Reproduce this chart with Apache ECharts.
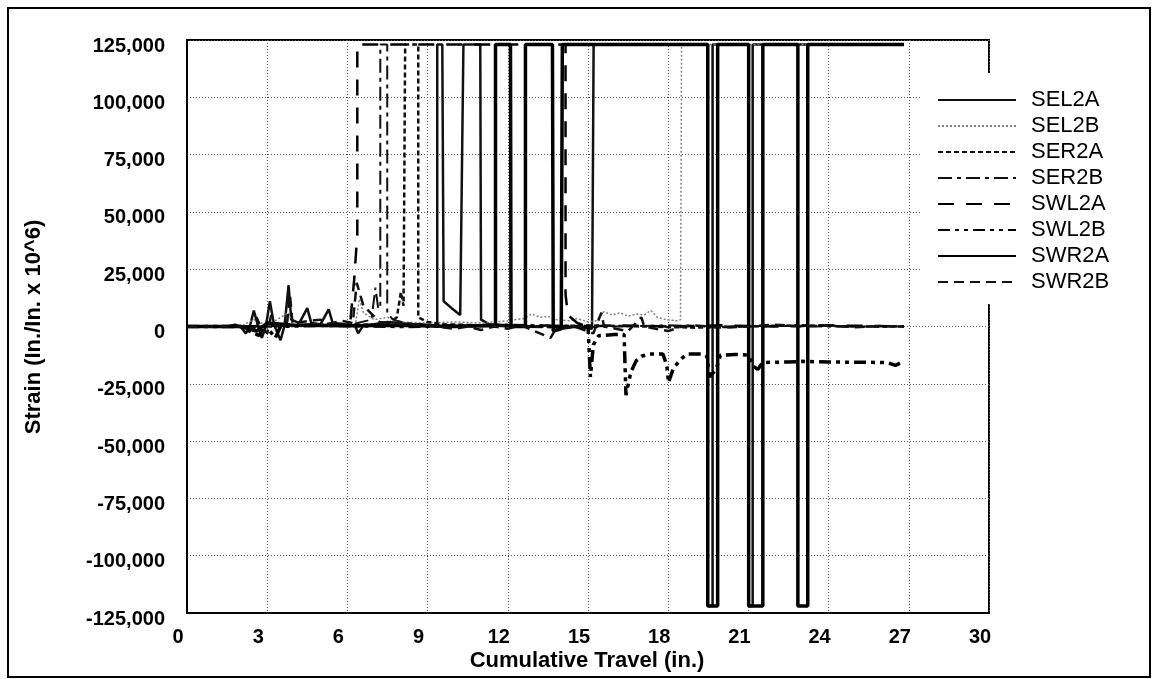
<!DOCTYPE html>
<html>
<head>
<meta charset="utf-8">
<script src="https://cdn.jsdelivr.net/npm/echarts@6/dist/echarts.min.js"></script>
<style>
html,body{margin:0;padding:0;background:#fff;}
#chart{width:1154px;height:679px;}
</style>
</head>
<body>
<div id="chart"></div>
<script>
// ---- data (x = cumulative travel in., y = strain in./in. x 10^6) ----
const seriesNames = ['SEL2A','SEL2B','SER2A','SER2B','SWL2A','SWL2B','SWR2A','SWR2B'];
const xTicks = [0,3,6,9,12,15,18,21,24,27,30];
const yTicks = [-125000,-100000,-75000,-50000,-25000,0,25000,50000,75000,100000,125000];

const SEL2A = [[0,0],[1.5,0],[1.8,800],[2.0,0],[2.2,-3000],[2.35,0],[2.5,7000],[2.65,500],[2.8,-5000],[2.95,0],[3.1,11000],[3.25,1000],[3.5,-6000],[3.65,500],[3.8,18000],[3.9,3000],[4.2,1500],[4.5,8000],[4.65,1500],[5.0,1000],[5.3,7500],[5.45,1500],[6.0,1000],[6.3,0],[6.4,-3000],[6.6,500],[7.0,1000],[7.5,2000],[8.0,1500],[8.5,1000],[9.0,500],[9.36,500],[9.36,123000],[9.55,123000],[9.6,11000],[9.9,8000],[10.22,5000],[10.34,123000],[10.97,123000],[11.0,3000],[11.3,1000],[12,500],[13,0],[13.5,500],[14,-1000],[14.6,0],[15.15,-1000],[15.21,123000],[19.48,123000],[19.48,-122000],[19.66,-122000],[19.66,123000],[21.01,123000],[21.01,-122000],[21.16,-122000],[21.16,123000],[26.82,123000]];
const SEL2B = [[0,0],[2,0],[2.5,3000],[3,500],[3.8,6000],[4,1000],[6.3,1000],[6.45,12000],[6.6,6000],[7,3000],[7.5,4000],[8,2000],[9,1500],[10,2000],[11,1500],[12,2500],[12.6,3500],[12.9,5500],[13.2,4000],[13.5,4500],[13.8,3000],[14.3,2500],[14.6,3500],[15.0,2000],[15.3,2500],[15.6,6500],[15.9,5000],[16.2,6000],[16.5,4500],[16.8,5500],[17.1,5000],[17.35,7000],[17.6,4000],[17.9,3000],[18.3,2500],[18.46,3000],[18.5,123000],[26.82,123000]];
const SER2A = [[0,0],[3,0],[5,500],[7.5,1000],[7.85,4000],[8.0,15000],[8.1,9000],[8.16,9000],[8.16,123000],[8.65,123000],[8.65,4000],[9.0,2000],[9.5,1000],[11,500],[13,0],[15,500],[17,0],[19,-500],[21,0],[23,500],[25,0],[26.82,0]];
const SER2B = [[0,0],[3,0],[4.5,1000],[6,500],[6.9,3000],[7.05,17000],[7.15,8000],[7.23,8000],[7.23,123000],[7.49,123000],[7.49,6000],[7.7,3000],[8.2,1500],[9,800],[10,500],[12,0],[14,-500],[16,0],[18,500],[20,0],[22,300],[24,0],[26.82,0]];
const SWL2A = [[0,0],[2,0],[4,500],[6.1,1000],[6.25,20000],[6.37,40000],[6.37,123000],[14.16,123000],[14.16,14000],[14.25,5000],[14.6,1500],[15,0],[16,500],[18,0],[20,500],[22,0],[24,500],[26.82,0]];
const SWL2B = [[0,0],[2,0],[2.7,-4000],[2.9,1000],[3.3,-5000],[3.5,0],[5,500],[8,0],[12,500],[14,0],[15.0,0],[15.09,-22000],[15.2,-8000],[15.4,-4000],[16.0,-3500],[16.35,-3500],[16.42,-30000],[16.6,-20000],[16.8,-15000],[17.0,-13000],[17.3,-12000],[17.8,-12000],[17.95,-17000],[18.01,-24500],[18.2,-18000],[18.5,-14000],[18.7,-12000],[19.3,-12000],[19.45,-13000],[19.55,-22000],[19.8,-18500],[19.95,-12500],[20.5,-12200],[21.0,-12500],[21.15,-17000],[21.35,-18700],[21.54,-15700],[22.5,-15500],[23,-15200],[24,-15500],[25,-15600],[26.2,-15700],[26.5,-17000],[26.7,-15800],[26.82,-15700]];
const SWR2A = [[0,0],[2,0],[2.6,-2000],[3,1500],[4,500],[6,300],[8,500],[10,0],[11.54,500],[11.54,123000],[12.10,123000],[12.12,0],[12.66,0],[12.66,123000],[13.67,123000],[13.7,-2000],[14.0,-1000],[14.04,123000],[19.48,123000],[19.48,-122000],[19.85,-122000],[19.85,123000],[21.01,123000],[21.01,-122000],[21.54,-122000],[21.54,123000],[22.85,123000],[22.85,-122000],[23.22,-122000],[23.22,123000],[26.82,123000]];
const SWR2B = [[0,0],[2.3,0],[2.5,-2000],[2.6,4000],[2.75,0],[3.0,-3000],[3.15,5000],[3.3,0],[3.75,2000],[3.85,14000],[3.95,1000],[4.3,2000],[5.0,3000],[5.2,1000],[5.8,2500],[6.2,1500],[6.35,19000],[6.6,9000],[6.95,5000],[7.2,2000],[8,1000],[9,500],[10,-1000],[10.5,0],[11,-1500],[11.5,0],[12,-1000],[12.5,500],[13.6,-5000],[13.8,-1000],[14.5,0],[15.2,-3000],[15.5,6000],[15.6,0],[16.5,-2000],[17.0,4000],[17.1,0],[18,-2000],[18.5,0],[19,500],[20,-500],[21,0],[22,800],[23,0],[24,400],[25,-300],[26,200],[26.82,0]];

// ---- styles ----
const dataByName = {SEL2A, SEL2B, SER2A, SER2B, SWL2A, SWL2B, SWR2A, SWR2B};
const styles = {
  SEL2A: {color:'#111', width:2.5, type:'solid'},
  SEL2B: {color:'#808080', width:1.5, type:[2,2]},
  SER2A: {color:'#111', width:2.5, type:[5,3]},
  SER2B: {color:'#111', width:2, type:[14,5,4,5]},
  SWL2A: {color:'#000', width:2.5, type:[16,12]},
  SWL2B: {color:'#000', width:3.5, type:[12,5,4,5,4,5]},
  SWR2A: {color:'#000', width:3.5, type:'solid'},
  SWR2B: {color:'#111', width:2.5, type:[10,6]}
};

const chart = echarts.init(document.getElementById('chart'), null, {renderer:'canvas'});
const FONT = 'Liberation Sans, Arial, sans-serif';

chart.setOption({
  animation:false,
  backgroundColor:'#fff',
  grid:{left:187, right:165, top:40, bottom:66, show:true, borderColor:'#000', borderWidth:2, backgroundColor:'transparent'},
  xAxis:{
    type:'value', min:0, max:30, interval:3,
    axisLine:{show:true, onZero:false, lineStyle:{color:'#000', width:2}},
    axisTick:{show:false},
    splitLine:{show:true, lineStyle:{color:'#555', width:1, type:[1,2]}},
    axisLabel:{color:'#000', fontFamily:FONT, fontWeight:'bold', fontSize:20, margin:14, padding:[0,18,0,0]}
  },
  yAxis:{
    type:'value', min:-125000, max:125000, interval:25000,
    axisLine:{show:true, onZero:false, lineStyle:{color:'#000', width:2}},
    axisTick:{show:false},
    splitLine:{show:true, lineStyle:{color:'#555', width:1, type:[1,2]}},
    axisLabel:{color:'#000', fontFamily:FONT, fontWeight:'bold', fontSize:20, margin:22,
      verticalAlign:'top', lineHeight:12,
      formatter:v=>v.toLocaleString('en-US')}
  },
  legend:{
    orient:'vertical', left:922, top:73,
    data:seriesNames,
    itemWidth:78, itemHeight:14, itemGap:4,
    padding:[16,40,11,15],
    backgroundColor:'#fff',
    itemStyle:{color:'rgba(0,0,0,0)', borderWidth:0, opacity:0},
    textStyle:{color:'#000', fontFamily:FONT, fontSize:22, lineHeight:22, padding:[0,0,0,10]}
  },
  graphic:[
    {type:'rect', shape:{x:8, y:8, width:1142, height:669}, style:{fill:'none', stroke:'#000', lineWidth:2}, z:100},
    {type:'text', x:34, y:327, rotation:Math.PI/2,
      style:{text:'Strain (In./In. x 10^6)', fill:'#000', font:'bold 22px '+FONT, align:'center', verticalAlign:'middle'}},
    {type:'text', x:587, y:661,
      style:{text:'Cumulative Travel (in.)', fill:'#000', font:'bold 22px '+FONT, align:'center', verticalAlign:'middle'}}
  ],
  series: seriesNames.map(n=>({
    name:n, type:'line', data:dataByName[n], symbol:'none', showSymbol:false,
    lineStyle:styles[n], itemStyle:{color:styles[n].color}, clip:true
  }))
});
</script>
</body>
</html>
